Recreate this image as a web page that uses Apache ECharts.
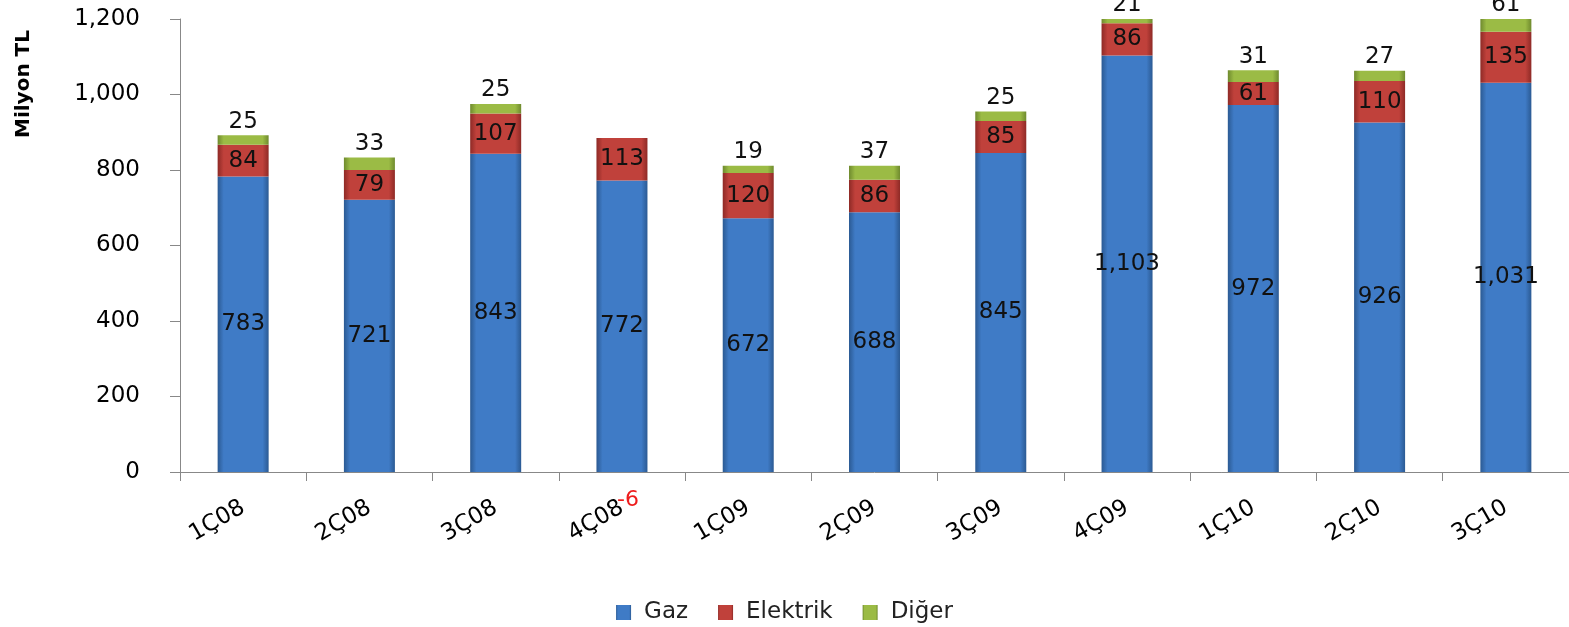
<!DOCTYPE html>
<html>
<head>
<meta charset="utf-8">
<script src="https://cdn.jsdelivr.net/npm/echarts@6/dist/echarts.min.js"></script>
<style>
html,body{margin:0;padding:0;background:#fff;}
#chart{width:1569px;height:627px;}
</style>
</head>
<body>
<div id="chart"></div>
<script>
const categories = ['1Ç08','2Ç08','3Ç08','4Ç08','1Ç09','2Ç09','3Ç09','4Ç09','1Ç10','2Ç10','3Ç10'];
const gaz = [783, 721, 843, 772, 672, 688, 845, 1103, 972, 926, 1031];
const elektrik = [84, 79, 107, 113, 120, 86, 85, 86, 61, 110, 135];
const diger = [25, 33, 25, -6, 19, 37, 25, 21, 31, 27, 61];
const yTicks = [0, 200, 400, 600, 800, 1000, 1200];

const FONT = 'DejaVu Sans';
function grad(edge, mid) {
  return new echarts.graphic.LinearGradient(0, 0, 1, 0, [
    {offset: 0, color: edge},
    {offset: 0.12, color: mid},
    {offset: 0.88, color: mid},
    {offset: 1, color: edge}
  ]);
}
const blue = grad('#2b5a93', '#3f7bc6');
const red = grad('#8e2a26', '#c0413b');
const green = grad('#6f8a2e', '#9bbb45');

const chart = echarts.init(document.getElementById('chart'), null, {renderer: 'canvas'});
const fmt = v => v.toLocaleString('en-US');

chart.setOption({
  animation: false,
  backgroundColor: '#fff',
  color: ['#3f7bc6', '#c0413b', '#9bbb45'],
  grid: {left: 180, right: 0, top: 19, bottom: 155, containLabel: false},
  graphic: [{
    type: 'text', x: 24, y: 84, rotation: Math.PI / 2,
    style: {text: 'Milyon TL', font: 'bold 20px "DejaVu Sans"', fill: '#000', textAlign: 'center', textVerticalAlign: 'middle'}
  }],
  legend: {
    bottom: -2, left: 'center', itemWidth: 15, itemHeight: 15, itemGap: 30,
    icon: 'rect',
    textStyle: {fontFamily: FONT, fontSize: 23, color: '#222', padding: [0, 0, 0, 8]},
    data: ['Gaz', 'Elektrik', 'Diğer']
  },
  xAxis: {
    type: 'category', data: categories,
    axisLine: {lineStyle: {color: '#888', width: 1}},
    axisTick: {show: true, length: 9, lineStyle: {color: '#888'}},
    axisLabel: {rotate: 30, margin: 34, fontFamily: FONT, fontSize: 23, color: '#000'}
  },
  yAxis: {
    type: 'value', min: yTicks[0], max: yTicks[yTicks.length - 1], interval: 200,
    splitLine: {show: false},
    axisLine: {show: true, lineStyle: {color: '#888', width: 1}},
    axisTick: {show: true, length: 10, lineStyle: {color: '#888'}},
    axisLabel: {margin: 40, fontFamily: FONT, fontSize: 23, color: '#000', formatter: fmt}
  },
  series: [
    {
      name: 'Gaz', type: 'bar', stack: 'a', barWidth: 51, data: gaz,
      itemStyle: {color: blue},
      label: {show: true, position: 'inside', fontFamily: FONT, fontSize: 23, color: '#111', formatter: p => fmt(p.value)}
    },
    {
      name: 'Elektrik', type: 'bar', stack: 'a', barWidth: 51, data: elektrik,
      itemStyle: {color: red},
      label: {show: true, position: 'inside', fontFamily: FONT, fontSize: 23, color: '#111', formatter: p => fmt(p.value)}
    },
    {
      name: 'Diğer', type: 'bar', stack: 'a', barWidth: 51, clip: true, z: 5,
      data: diger.map(v => v < 0 ? {value: v, label: {position: 'inside', offset: [6, 28], color: '#ee1c1c', fontSize: 22}} : v),
      itemStyle: {color: green},
      label: {show: true, position: 'top', distance: 2, fontFamily: FONT, fontSize: 23, color: '#111', formatter: p => fmt(p.value)}
    }
  ]
});
</script>
</body>
</html>
